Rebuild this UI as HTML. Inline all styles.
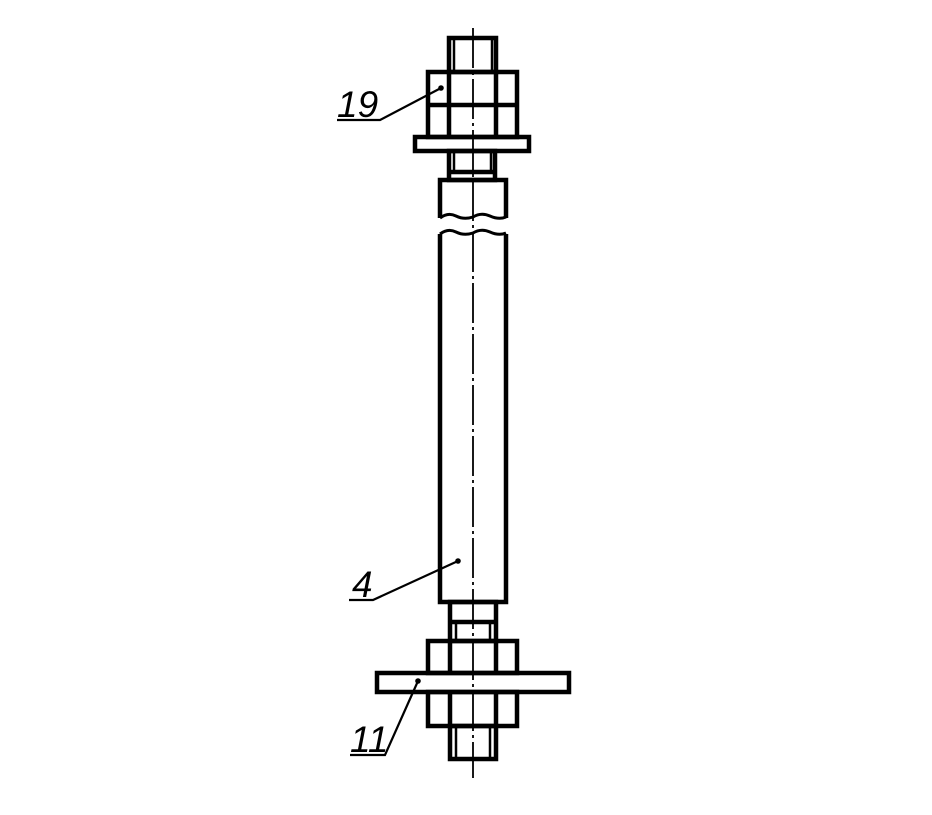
<!DOCTYPE html>
<html><head><meta charset="utf-8"><style>
html,body{margin:0;padding:0;background:#fff;}
svg{display:block;}
text{font-family:"Liberation Sans",sans-serif;font-style:italic;font-size:37px;fill:#000;}
</style></head><body>
<svg width="932" height="815" viewBox="0 0 932 815" xmlns="http://www.w3.org/2000/svg">
<g fill="none" stroke="#000" stroke-width="4.5">
<rect x="449" y="38" width="47" height="34"/>
<line x1="454" y1="38" x2="454" y2="72" stroke-width="2.5"/>
<line x1="492" y1="38" x2="492" y2="72" stroke-width="2.5"/>
<rect x="428" y="72" width="89" height="65"/>
<line x1="428" y1="105" x2="517" y2="105"/>
<line x1="449" y1="72" x2="449" y2="137"/>
<line x1="496" y1="72" x2="496" y2="137"/>
<rect x="415" y="137" width="114" height="14"/>
<rect x="449" y="151" width="46" height="29"/>
<line x1="454" y1="151" x2="454" y2="172" stroke-width="2.5"/>
<line x1="491" y1="151" x2="491" y2="172" stroke-width="2.5"/>
<line x1="449" y1="172" x2="495" y2="172"/>
<path d="M440 218 L440 180 L506 180 L506 218"/>
<path d="M440 218 Q448 212 456 216 T473 217 Q481 212 490 216 T506 217" stroke-width="3"/>
<path d="M440 234 Q448 228 456 232 T473 233 Q481 228 490 232 T506 233" stroke-width="3"/>
<path d="M440 234 L440 602 L506 602 L506 234"/>
<rect x="450" y="602" width="46" height="39"/>
<line x1="450" y1="622" x2="496" y2="622"/>
<line x1="456" y1="622" x2="456" y2="641" stroke-width="2.5"/>
<line x1="490" y1="622" x2="490" y2="641" stroke-width="2.5"/>
<rect x="428" y="641" width="89" height="32"/>
<line x1="450" y1="641" x2="450" y2="673"/>
<line x1="496" y1="641" x2="496" y2="673"/>
<rect x="377" y="673" width="192" height="19"/>
<rect x="428" y="692" width="89" height="34"/>
<line x1="450" y1="692" x2="450" y2="726"/>
<line x1="496" y1="692" x2="496" y2="726"/>
<rect x="450" y="726" width="46" height="33"/>
<line x1="456" y1="726" x2="456" y2="759" stroke-width="2.5"/>
<line x1="490" y1="726" x2="490" y2="759" stroke-width="2.5"/>
</g>
<line x1="473" y1="28" x2="473" y2="778" stroke="#000" stroke-width="1.8" stroke-dasharray="40,4,3,4"/>
<g stroke="#000" stroke-width="2.2" fill="none">
<polyline points="337,120 380,120 441,88"/>
<polyline points="349,600 373,600 458,561"/>
<polyline points="350,755 385,755 418,681"/>
</g>
<circle cx="441" cy="88" r="2.8"/>
<circle cx="458" cy="561" r="2.8"/>
<circle cx="418" cy="681" r="2.8"/>
<text x="337" y="117">19</text>
<text x="352" y="597">4</text>
<text x="350" y="752">11</text>
</svg>
</body></html>
